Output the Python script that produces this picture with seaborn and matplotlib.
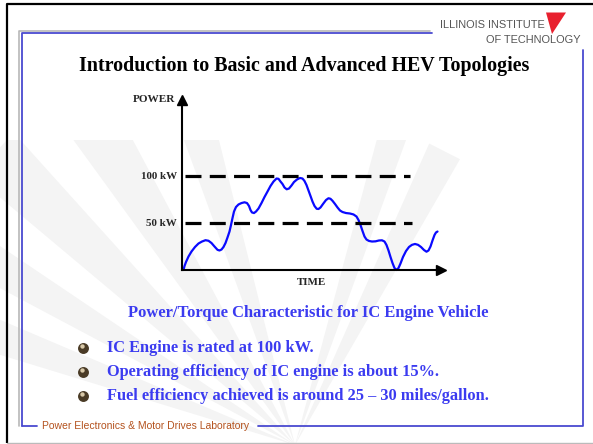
import numpy as np
import pandas as pd
import matplotlib
matplotlib.use("Agg")
import matplotlib.pyplot as plt
from matplotlib.patches import Polygon
import seaborn as sns

# Power curve (time in arbitrary units, power in kW)
time = [2.0, 3.0, 4.5, 7.0, 10.0, 13.5, 17.0, 20.5, 24.0, 27.0, 30.0, 33.0,
        36.0, 38.0, 40.0, 42.0, 44.0, 46.0, 48.0, 49.5, 51.0, 52.5, 54.5,
        57.0, 60.0, 63.0, 65.5, 67.5, 69.0, 70.5, 72.5, 74.5, 77.0, 80.0,
        83.0, 86.0, 89.0, 92.0, 95.0, 97.0, 99.0, 101.0, 103.0, 105.2, 107.5,
        110.0, 112.5, 115.5, 118.5, 121.0, 123.0, 125.0, 127.0, 129.0, 131.0,
        133.0, 135.2, 137.0, 139.0, 141.5, 144.5, 147.0, 149.0, 151.0, 153.5,
        156.0, 158.5, 161.0, 164.5, 168.5, 172.0, 175.0, 177.0, 179.0, 181.0,
        183.0, 185.0, 187.5, 190.5, 194.0, 197.5, 200.5, 203.0, 205.0, 207.0,
        209.0, 211.0, 213.0, 215.0, 217.0, 219.0, 221.5, 224.5, 227.5, 230.5,
        233.5, 236.5, 239.5, 242.5, 245.0, 247.0, 249.0, 251.0, 253.0, 254.5,
        256.0]
power = [0.0, 4.2, 8.5, 14.3, 19.6, 24.4, 28.1, 30.2, 31.6, 31.0, 28.6, 24.9,
         21.4, 20.7, 21.7, 24.4, 28.6, 34.5, 40.8, 47.7, 55.1, 62.0, 66.8,
         69.5, 71.0, 71.8, 71.0, 67.9, 63.6, 61.0, 60.4, 62.0, 65.2, 71.0,
         77.4, 83.2, 89.1, 93.8, 97.0, 96.7, 93.8, 91.2, 87.5, 85.6, 86.4,
         89.6, 93.3, 96.0, 97.6, 97.0, 94.4, 90.1, 84.3, 78.5, 72.6,
         67.9, 64.9, 64.7, 66.3, 70.0, 74.2, 76.1, 75.5, 73.4, 70.0,
         66.3, 63.1, 61.5, 60.4, 59.9, 58.9, 56.7, 53.0, 47.7, 41.4,
         35.5, 32.3, 30.8, 30.2, 30.4, 31.3, 31.5, 30.2, 26.5, 20.7,
         13.8, 7.4, 2.1, 0.0, 2.1, 6.9, 13.8, 20.1, 24.4, 26.7,
         27.6, 26.7, 24.4, 21.2, 19.4, 20.7, 24.9, 31.3, 37.1, 39.8,
         40.8]
levels = [50, 100]
level_labels = ["50 kW", "100 kW"]
level_end = [230.5, 228.5]

title = "Introduction to Basic and Advanced HEV Topologies"
caption = "Power/Torque Characteristic for IC Engine Vehicle"
bullets = ["IC Engine is rated at 100 kW.",
           "Operating efficiency of IC engine is about 15%.",
           "Fuel efficiency achieved is around 25 \u2013 30 miles/gallon."]
footer = "Power Electronics & Motor Drives Laboratory"

sns.set_style("white")
plt.rcParams['font.family'] = ['Liberation Serif', 'DejaVu Serif']

W, H = 593, 444
fig = plt.figure(figsize=(W / 100, H / 100), dpi=100)

# slide background / frame in pixel coordinates
bg = fig.add_axes([0, 0, 1, 1])
bg.set_xlim(0, W)
bg.set_ylim(H, 0)
bg.axis('off')

# faint watermark rays
cx, cy = 295, 445
for a0, a1 in [(60, 66), (70, 75), (104, 110), (118, 126), (132, 140),
               (146, 152), (157, 163)]:
    r = 330 if a0 < 90 else 420
    pts = [(cx, cy),
           (cx + r * np.cos(np.radians(a0)), cy - r * np.sin(np.radians(a0))),
           (cx + r * np.cos(np.radians(a1)), cy - r * np.sin(np.radians(a1)))]
    bg.add_patch(Polygon(pts, closed=True, color='#f4f4f4', lw=0, zorder=0))
bg.add_patch(Polygon([(0, 0), (W, 0), (W, 140), (0, 140)], color='white',
                     lw=0, zorder=0.5))

# outer frame
bg.plot([7, 7, W], [H - 1, 4, 4], color='black', lw=1.6, solid_capstyle='butt')
bg.plot([7, W], [443, 443], color='#bbbbbb', lw=1)
# inner frame with shadow
bg.plot([19, 19, 430], [426, 31, 31], color='#b8b8b8', lw=1.2)
bg.plot([21.5, 21.5, 432], [426, 33.5, 33.5], color='#4a4ad0', lw=1.3)
bg.plot([21.5, 37], [426, 426], color='#4a4ad0', lw=1.3)
bg.plot([258, 583, 583], [426, 426, 50], color='#4a4ad0', lw=1.3)

# logo
bg.text(545, 25, "ILLINOIS INSTITUTE", fontsize=7.9, family='Liberation Sans',
        color='#555555', ha='right', va='center')
bg.text(581, 40, "OF TECHNOLOGY", fontsize=7.9, family='Liberation Sans',
        color='#555555', ha='right', va='center')
bg.add_patch(Polygon([(546, 12.5), (566, 12.5), (552, 34)], closed=True,
                     color='#e8202e', lw=0))

bg.text(304.5, 66, title, fontsize=14.4, fontweight='bold', color='black',
        ha='center', va='center')

blue = '#3b3bf0'
bg.text(308.5, 312.5, caption, fontsize=11.9, fontweight='bold', color=blue,
        ha='center', va='center')
for i, b in enumerate(bullets):
    yy = 347.5 + i * 24
    bg.scatter([83], [yy], s=62, color='#4a3b26', zorder=3, lw=0)
    bg.scatter([81.8], [yy - 1.5], s=10, color='#d8c8a8', zorder=4, lw=0)
    bg.text(106.7, yy + 0.5, b, fontsize=11.8, fontweight='bold', color=blue,
            ha='left', va='center')

bg.text(42.5, 426, footer, fontsize=7.5, family='Liberation Sans',
        color='#b4521e', ha='left', va='center')

# chart
x0, x1, y0, y1 = 181.5, 441, 270, 100
ax = fig.add_axes([x0 / W, 1 - y0 / H, (x1 - x0) / W, (y0 - y1) / H])
ax.patch.set_alpha(0)
df = pd.DataFrame({"time": time, "power": power})
sns.lineplot(data=df, x="time", y="power", ax=ax, color='#0a0aff', lw=1.6,
             clip_on=False)
ax.hlines(levels, 3.5, level_end, colors='black', lw=2.3,
          linestyles=(0, (5, 2.6)))
ax.set_xlim(0, x1 - x0)
ax.set_ylim(0, (y0 - y1) / 0.943)
for s in ['top', 'right']:
    ax.spines[s].set_visible(False)
for s in ['left', 'bottom']:
    ax.spines[s].set_color('black')
    ax.spines[s].set_linewidth(1.5)
ax.plot(1, 0, '>k', ms=7.5, transform=ax.transAxes, clip_on=False)
ax.plot(0, 1, '^k', ms=7.5, transform=ax.transAxes, clip_on=False)
ax.set_xticks([])
ax.set_yticks(levels, labels=level_labels)
ax.tick_params(axis='y', length=0, pad=3.5, labelsize=7.9)
for t in ax.get_yticklabels():
    t.set_fontweight('bold')
ax.set_xlabel("TIME", fontsize=7.9, fontweight='bold', labelpad=6)
ax.set_ylabel("")
ax.text(-0.025, 1.0, "POWER", transform=ax.transAxes, fontsize=8.1,
        fontweight='bold', ha='right', va='center')

fig.savefig("out.png", dpi=100)
